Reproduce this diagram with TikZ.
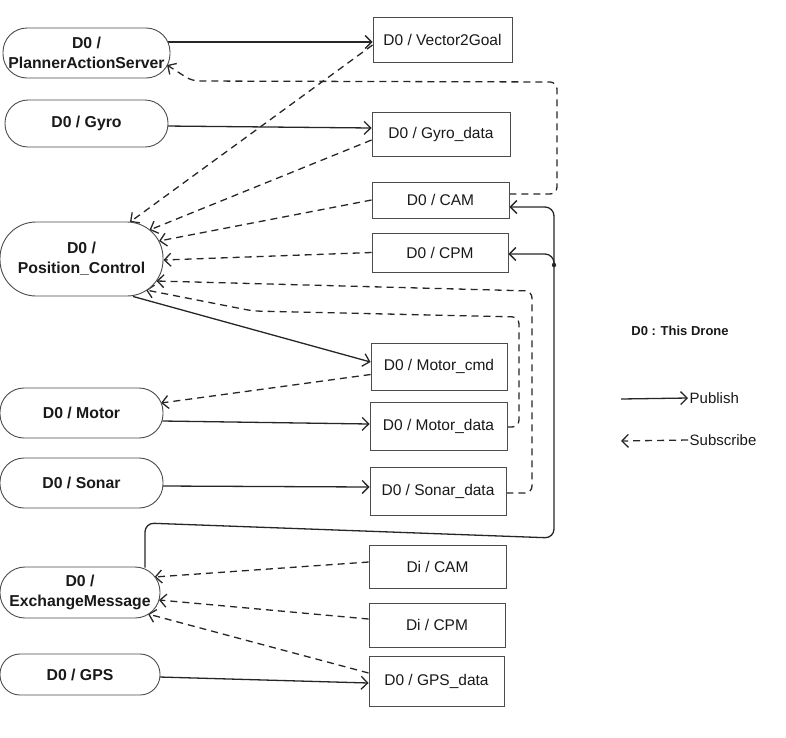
\documentclass[tikz,border=0pt]{standalone}
\usepackage{fontspec}
\setmainfont{Liberation Sans}
\usetikzlibrary{arrows.meta,calc,backgrounds}
\begin{document}
\begin{tikzpicture}[x=1pt,y=-1pt,
  topic/.style={draw=black!70, line width=0.9pt, fill=white, inner sep=0pt,
    font=\fontsize{15.5}{18}\selectfont, text=black!90},
  proc/.style={draw=black!70, line width=0.9pt, fill=white, inner sep=0pt, align=center,
    font=\fontsize{15.8}{20}\selectfont\bfseries, text=black!90},
  pub/.style={-{Straight Barb[length=6.5pt,width=13pt]}, line width=1.3pt, draw=black!85},
  sub/.style={pub, dash pattern=on 7pt off 5pt},
  bus/.style={pub, rounded corners=9pt},
  loop/.style={sub, rounded corners=7pt}]
\useasboundingbox (0,0) rectangle (786,737);

% nodes (processes) on the left
\node[proc, minimum width=167pt, minimum height=50pt, rounded corners=24pt] (pas) at (86.5,53) {D0 /\\PlannerActionServer};
\node[proc, minimum width=163pt, minimum height=47pt, rounded corners=23pt] (gyro) at (86.5,123.5) {D0 / Gyro};
\node[proc, minimum width=163pt, minimum height=74pt, rounded corners=36pt] (pc) at (81.5,259) {D0 /\\Position\_Control};
\node[proc, minimum width=163pt, minimum height=50pt, rounded corners=24pt] (mot) at (81.5,413) {D0 / Motor};
\node[proc, minimum width=163pt, minimum height=50pt, rounded corners=24pt] (son) at (81.5,483) {D0 / Sonar};
\node[proc, minimum width=160pt, minimum height=51pt, rounded corners=25pt] (em) at (80,592.5) {D0 /\\ExchangeMessage};
\node[proc, minimum width=160pt, minimum height=41pt, rounded corners=20pt] (gps) at (80,674.5) {D0 / GPS};

% topics
\node[topic, minimum width=139pt, minimum height=45pt] (v2g) at (442.5,39.5) {D0 / Vector2Goal};
\node[topic, minimum width=138pt, minimum height=44pt] (gyd) at (441,134) {D0 / Gyro\_data};
\node[topic, minimum width=137pt, minimum height=36pt] (cam) at (440.5,200) {D0 / CAM};
\node[topic, minimum width=136pt, minimum height=39pt] (cpm) at (440,252.5) {D0 / CPM};
\node[topic, minimum width=136pt, minimum height=47pt] (mcmd) at (439,366.5) {D0 / Motor\_cmd};
\node[topic, minimum width=137pt, minimum height=48pt] (mdat) at (438.5,426) {D0 / Motor\_data};
\node[topic, minimum width=136pt, minimum height=48pt] (sdat) at (438,491) {D0 / Sonar\_data};
\node[topic, minimum width=137pt, minimum height=43pt] (dcam) at (437.5,566.5) {Di / CAM};
\node[topic, minimum width=136pt, minimum height=44pt] (dcpm) at (437,625) {Di / CPM};
\node[topic, minimum width=135pt, minimum height=50pt] (gpsd) at (436.5,681.5) {D0 / GPS\_data};

% legend
\node[font=\fontsize{13}{15}\selectfont\bfseries, text=black!90] (key) at (680,331) {D0 : This Drone};
\node[anchor=west, inner sep=1.5pt, font=\fontsize{15}{17}\selectfont, text=black!90] (pubtxt) at (688,398) {Publish};
\node[anchor=west, inner sep=1.5pt, font=\fontsize{15}{17}\selectfont, text=black!90] (subtxt) at (688,440) {Subscribe};
\coordinate (lp) at (621,399);
\coordinate (ls) at (621,441);

\coordinate (jn) at (554,265);

\begin{pgfonlayer}{background}
  % publish
  \draw[pub] ($(pas.east)+(-5,-11)$) -- ($(v2g.west)+(0,2.5)$);
  \draw[pub] ($(gyro.east)+(-3,2.5)$) -- ($(gyd.west)+(0,-6)$);
  \draw[pub] ($(pc.south)+(51.5,0)$) -- ($(mcmd.west)+(0,-4.5)$);
  \draw[pub] ($(mot.east)+(-1,8)$) -- ($(mdat.west)+(0,-2)$);
  \draw[pub] ($(son.east)+(-1,3)$) -- ($(sdat.west)+(0,-4)$);
  \draw[pub] ($(gps.east)+(-1,2.5)$) -- ($(gpsd.west)+(0,1.5)$);
  \draw[bus] ($(em.north)+(65,1)$) -- (145,523) -- (554,538) -- (554,207) -- ($(cam.east)+(0,7)$);
  \draw[bus] (jn) -- (554,254) -- ($(cpm.east)+(0,1.5)$);
  \fill[black!85] (jn) circle (2.2pt);

  % subscribe
  \draw[sub] ($(v2g.west)+(0,5.5)$) -- ($(pc.center)+(48.5,-37)$);
  \draw[sub] ($(gyd.west)+(0,6)$) -- ($(pc.center)+(68,-29)$);
  \draw[sub] (cam.west) -- ($(pc.center)+(77.5,-18)$);
  \draw[sub] (cpm.west) -- ($(pc.east)+(0,1)$);
  \draw[loop] ($(sdat.east)+(0,2)$) -- (532,493) -- (532,291) -- ($(pc.center)+(75,22)$);
  \draw[loop] ($(mdat.east)+(0,1)$) -- (519,427) -- (519,317) -- (253,311) -- ($(pc.center)+(64.5,31)$);
  \draw[sub] ($(mcmd.west)+(0,8)$) -- ($(mot.center)+(79.5,-10)$);
  \draw[loop] ($(cam.east)+(0,-6)$) -- (557,194) -- (557,82) -- (192,81) -- ($(pas.center)+(80.5,12)$);
  \draw[sub] ($(dcam.west)+(0,-4.5)$) -- ($(em.center)+(74.5,-15.5)$);
  \draw[sub] ($(dcpm.west)+(0,-6)$) -- ($(em.center)+(79,7.5)$);
  \draw[sub] ($(gpsd.west)+(0,-8.5)$) -- ($(em.center)+(68,21.5)$);

  % legend arrows
  \draw[pub] (lp) -- (pubtxt.west);
  \draw[sub] (subtxt.west) -- (ls);
\end{pgfonlayer}
\end{tikzpicture}
\end{document}
